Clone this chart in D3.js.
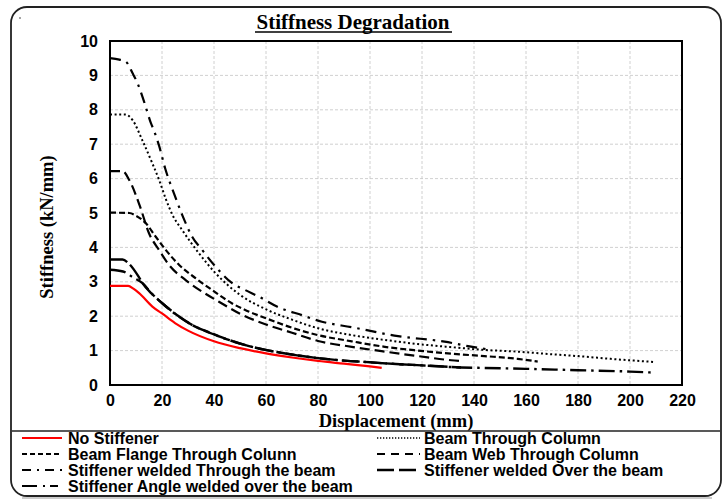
<!DOCTYPE html>
<html><head><meta charset="utf-8">
<script src="https://cdn.jsdelivr.net/npm/d3@7"></script>
<style>body{margin:0;background:#fff}svg{display:block}</style>
</head><body>
<svg id="c" width="728" height="499"></svg>
<script>
// ---- data ----
const xTicks = [0,20,40,60,80,100,120,140,160,180,200,220];
const yTicks = [0,1,2,3,4,5,6,7,8,9,10];
const noStiffener = [[0,2.88],[7,2.88],[9,2.8],[11.2,2.67],[16.3,2.28],[20,2.08],[25,1.8],[30,1.58],[40,1.27],[50,1.07],[60,0.92],[70,0.8],[80,0.7],[90,0.62],[100,0.54],[104.5,0.5]];
const beamThroughColumn = [[0,7.86],[6,7.86],[8.7,7.7],[12.4,7.12],[16.3,6.44],[18.9,5.96],[21.5,5.4],[24,4.95],[27.8,4.5],[34.2,3.83],[40.6,3.25],[50,2.62],[60,2.2],[70,1.9],[80,1.65],[93,1.45],[105.7,1.31],[118.5,1.19],[131.3,1.1],[144,1.02],[156.8,0.97],[167,0.91],[180,0.84],[192.6,0.76],[209,0.67]];
const beamFlangeThroughColumn = [[0,5.01],[7.4,5.0],[10,4.92],[13.8,4.7],[17.6,4.31],[21.5,3.92],[26.6,3.49],[33,3.1],[39.3,2.76],[47,2.37],[52,2.18],[60,1.94],[71,1.64],[80,1.45],[93,1.27],[105.7,1.11],[118.5,1.0],[131.3,0.91],[144,0.84],[156.8,0.76],[164.5,0.68]];
const beamWebThroughColumn = [[0,6.22],[4.8,6.22],[7.4,5.96],[11.5,5.2],[15,4.41],[18.9,3.92],[22.7,3.49],[29.1,3.05],[35.5,2.71],[41.9,2.42],[50,2.07],[60,1.76],[70,1.52],[80,1.28],[93,1.11],[105.7,0.97],[118.5,0.84],[131.3,0.72],[135,0.7]];
const stiffenerThroughBeam = [[0,9.5],[3.6,9.46],[6.1,9.4],[8.7,9.06],[10.6,8.77],[13.1,8.24],[15.7,7.62],[17,7.38],[18.9,6.95],[21.2,6.3],[24.6,5.57],[27.8,4.94],[31.6,4.31],[35.5,3.92],[40.6,3.44],[47,2.96],[52,2.76],[57.2,2.57],[64.2,2.28],[73.8,2.03],[81.5,1.84],[93,1.68],[110.8,1.42],[128.7,1.26],[137.7,1.13],[145,1.04]];
const stiffenerOverBeam = [[0,3.65],[4.8,3.65],[7.1,3.54],[11,3.15],[12.5,2.96],[16,2.66],[20.2,2.37],[26.6,1.99],[31.7,1.74],[39.3,1.5],[45.7,1.31],[52.1,1.16],[59.8,1.02],[71.3,0.87],[80,0.78],[90,0.71],[100,0.66],[110,0.61],[120,0.57],[135,0.51]];
const stiffenerAngleOverBeam = [[0,3.35],[5,3.3],[9,3.12],[12.5,2.96],[16,2.66],[20.2,2.37],[26.6,1.98],[31.7,1.74],[39.3,1.49],[45.7,1.31],[52.1,1.16],[59.8,1.02],[71.3,0.87],[80,0.78],[90,0.71],[100,0.66],[110,0.61],[120,0.57],[135,0.51],[141.5,0.5],[160,0.47],[180,0.43],[200,0.39],[209.2,0.36]];

const series = [
  {name:"No Stiffener", data:noStiffener, color:"#ff0000", dash:null, w:2.2, lw:2, col:0, row:0},
  {name:"Beam Through Column", data:beamThroughColumn, color:"#000", dash:"2,2.6", w:2, lw:1.3, ldash:"1.3,1.7", col:1, row:0},
  {name:"Beam Flange Through Colunn", data:beamFlangeThroughColumn, color:"#000", dash:"6,3", w:2.2, lw:2, ldash:"5,3", col:0, row:1},
  {name:"Beam Web Through Column", data:beamWebThroughColumn, color:"#000", dash:"10,5", w:2.2, lw:2, ldash:"8,6", col:1, row:1},
  {name:"Stiffener welded Through the beam", data:stiffenerThroughBeam, color:"#000", dash:"11,6,2.5,6", w:2.2, lw:2, ldash:"9,6,2,6", col:0, row:2},
  {name:"Stiffener welded Over the beam", data:stiffenerOverBeam, color:"#000", dash:"18,4", w:2.4, lw:2.4, ldash:"17,5", col:1, row:2},
  {name:"Stiffener Angle welded over the beam", data:stiffenerAngleOverBeam, color:"#000", dash:"16,5,2.5,5", w:2.4, lw:2.2, ldash:"15,6,2,5,8", col:0, row:3}
];

const svg = d3.select("#c");
const L=110, R=682, T=41, B=385;
const x = d3.scaleLinear().domain([0,220]).range([L,R]);
const y = d3.scaleLinear().domain([0,10]).range([B,T]);
const sans = "'Liberation Sans', Arial, sans-serif";
const serif = "'Liberation Serif', 'Times New Roman', serif";

// outer frame
svg.append("rect").attr("x",11).attr("y",7).attr("width",710).attr("height",489).attr("rx",16)
  .attr("fill","none").attr("stroke","#222").attr("stroke-width",1.8);
svg.append("line").attr("x1",22).attr("x2",712).attr("y1",498).attr("y2",498).attr("stroke","#999").attr("stroke-width",1);
svg.append("circle").attr("cx",20).attr("cy",18).attr("r",0.8).attr("fill","#333");

// grid
svg.append("g").selectAll("line").data(xTicks.slice(1,-1)).join("line")
  .attr("x1",d=>x(d)).attr("x2",d=>x(d)).attr("y1",T).attr("y2",B)
  .attr("stroke","#c4c4c4").attr("stroke-width",0.8).attr("stroke-dasharray","3,2");
svg.append("g").selectAll("line").data(yTicks.slice(1,-1)).join("line")
  .attr("x1",L).attr("x2",R).attr("y1",d=>y(d)).attr("y2",d=>y(d))
  .attr("stroke","#c4c4c4").attr("stroke-width",0.8).attr("stroke-dasharray","3,2");

// axes
const xa = svg.append("g").attr("transform",`translate(0,${B})`)
  .call(d3.axisBottom(x).tickValues(xTicks).tickSize(0).tickPadding(10));
const ya = svg.append("g").attr("transform",`translate(${L},0)`)
  .call(d3.axisLeft(y).tickValues(yTicks).tickSize(0).tickPadding(12));
[xa,ya].forEach(a=>{a.select(".domain").remove();
  a.selectAll("text").attr("font-family",sans).attr("font-weight","bold").attr("font-size",16).attr("fill","#000");});

// plot border
svg.append("rect").attr("x",L).attr("y",T).attr("width",R-L).attr("height",B-T)
  .attr("fill","none").attr("stroke","#000").attr("stroke-width",2);

// lines
const line = d3.line().x(d=>x(d[0])).y(d=>y(d[1])).curve(d3.curveMonotoneX);
series.forEach(s=>{
  svg.append("path").datum(s.data).attr("d",line).attr("fill","none")
    .attr("stroke",s.color).attr("stroke-width",s.w)
    .attr("stroke-dasharray",s.dash).attr("stroke-linecap","butt");
});

// title
svg.append("text").attr("x",353).attr("y",29).attr("text-anchor","middle")
  .attr("font-family",serif).attr("font-weight","bold").attr("font-size",21)
  .text("Stiffness Degradation");
svg.append("line").attr("x1",255).attr("x2",452).attr("y1",32).attr("y2",32).attr("stroke","#000").attr("stroke-width",1.5);
svg.append("text").attr("x",396).attr("y",427).attr("text-anchor","middle")
  .attr("font-family",serif).attr("font-weight","bold").attr("font-size",18.5).text("Displacement (mm)");
svg.append("text").attr("transform","translate(53,227) rotate(-90)").attr("text-anchor","middle")
  .attr("font-family",serif).attr("font-weight","bold").attr("font-size",18.5).text("Stiffness (kN/mm)");

// legend
svg.append("line").attr("x1",12).attr("x2",720).attr("y1",431).attr("y2",431).attr("stroke","#222").attr("stroke-width",1.5);
const colX = [[22,62,68],[377,420,424]];
series.forEach(s=>{
  const cy = 438 + s.row*16;
  const c = colX[s.col];
  svg.append("line").attr("x1",c[0]).attr("x2",c[1]).attr("y1",cy).attr("y2",cy)
    .attr("stroke",s.color).attr("stroke-width",s.lw).attr("stroke-dasharray",s.ldash||null);
  svg.append("text").attr("x",c[2]).attr("y",cy+5.5).attr("font-family",sans).attr("font-weight","bold")
    .attr("font-size",16).attr("fill","#000").text(s.name);
});
</script>
</body></html>
